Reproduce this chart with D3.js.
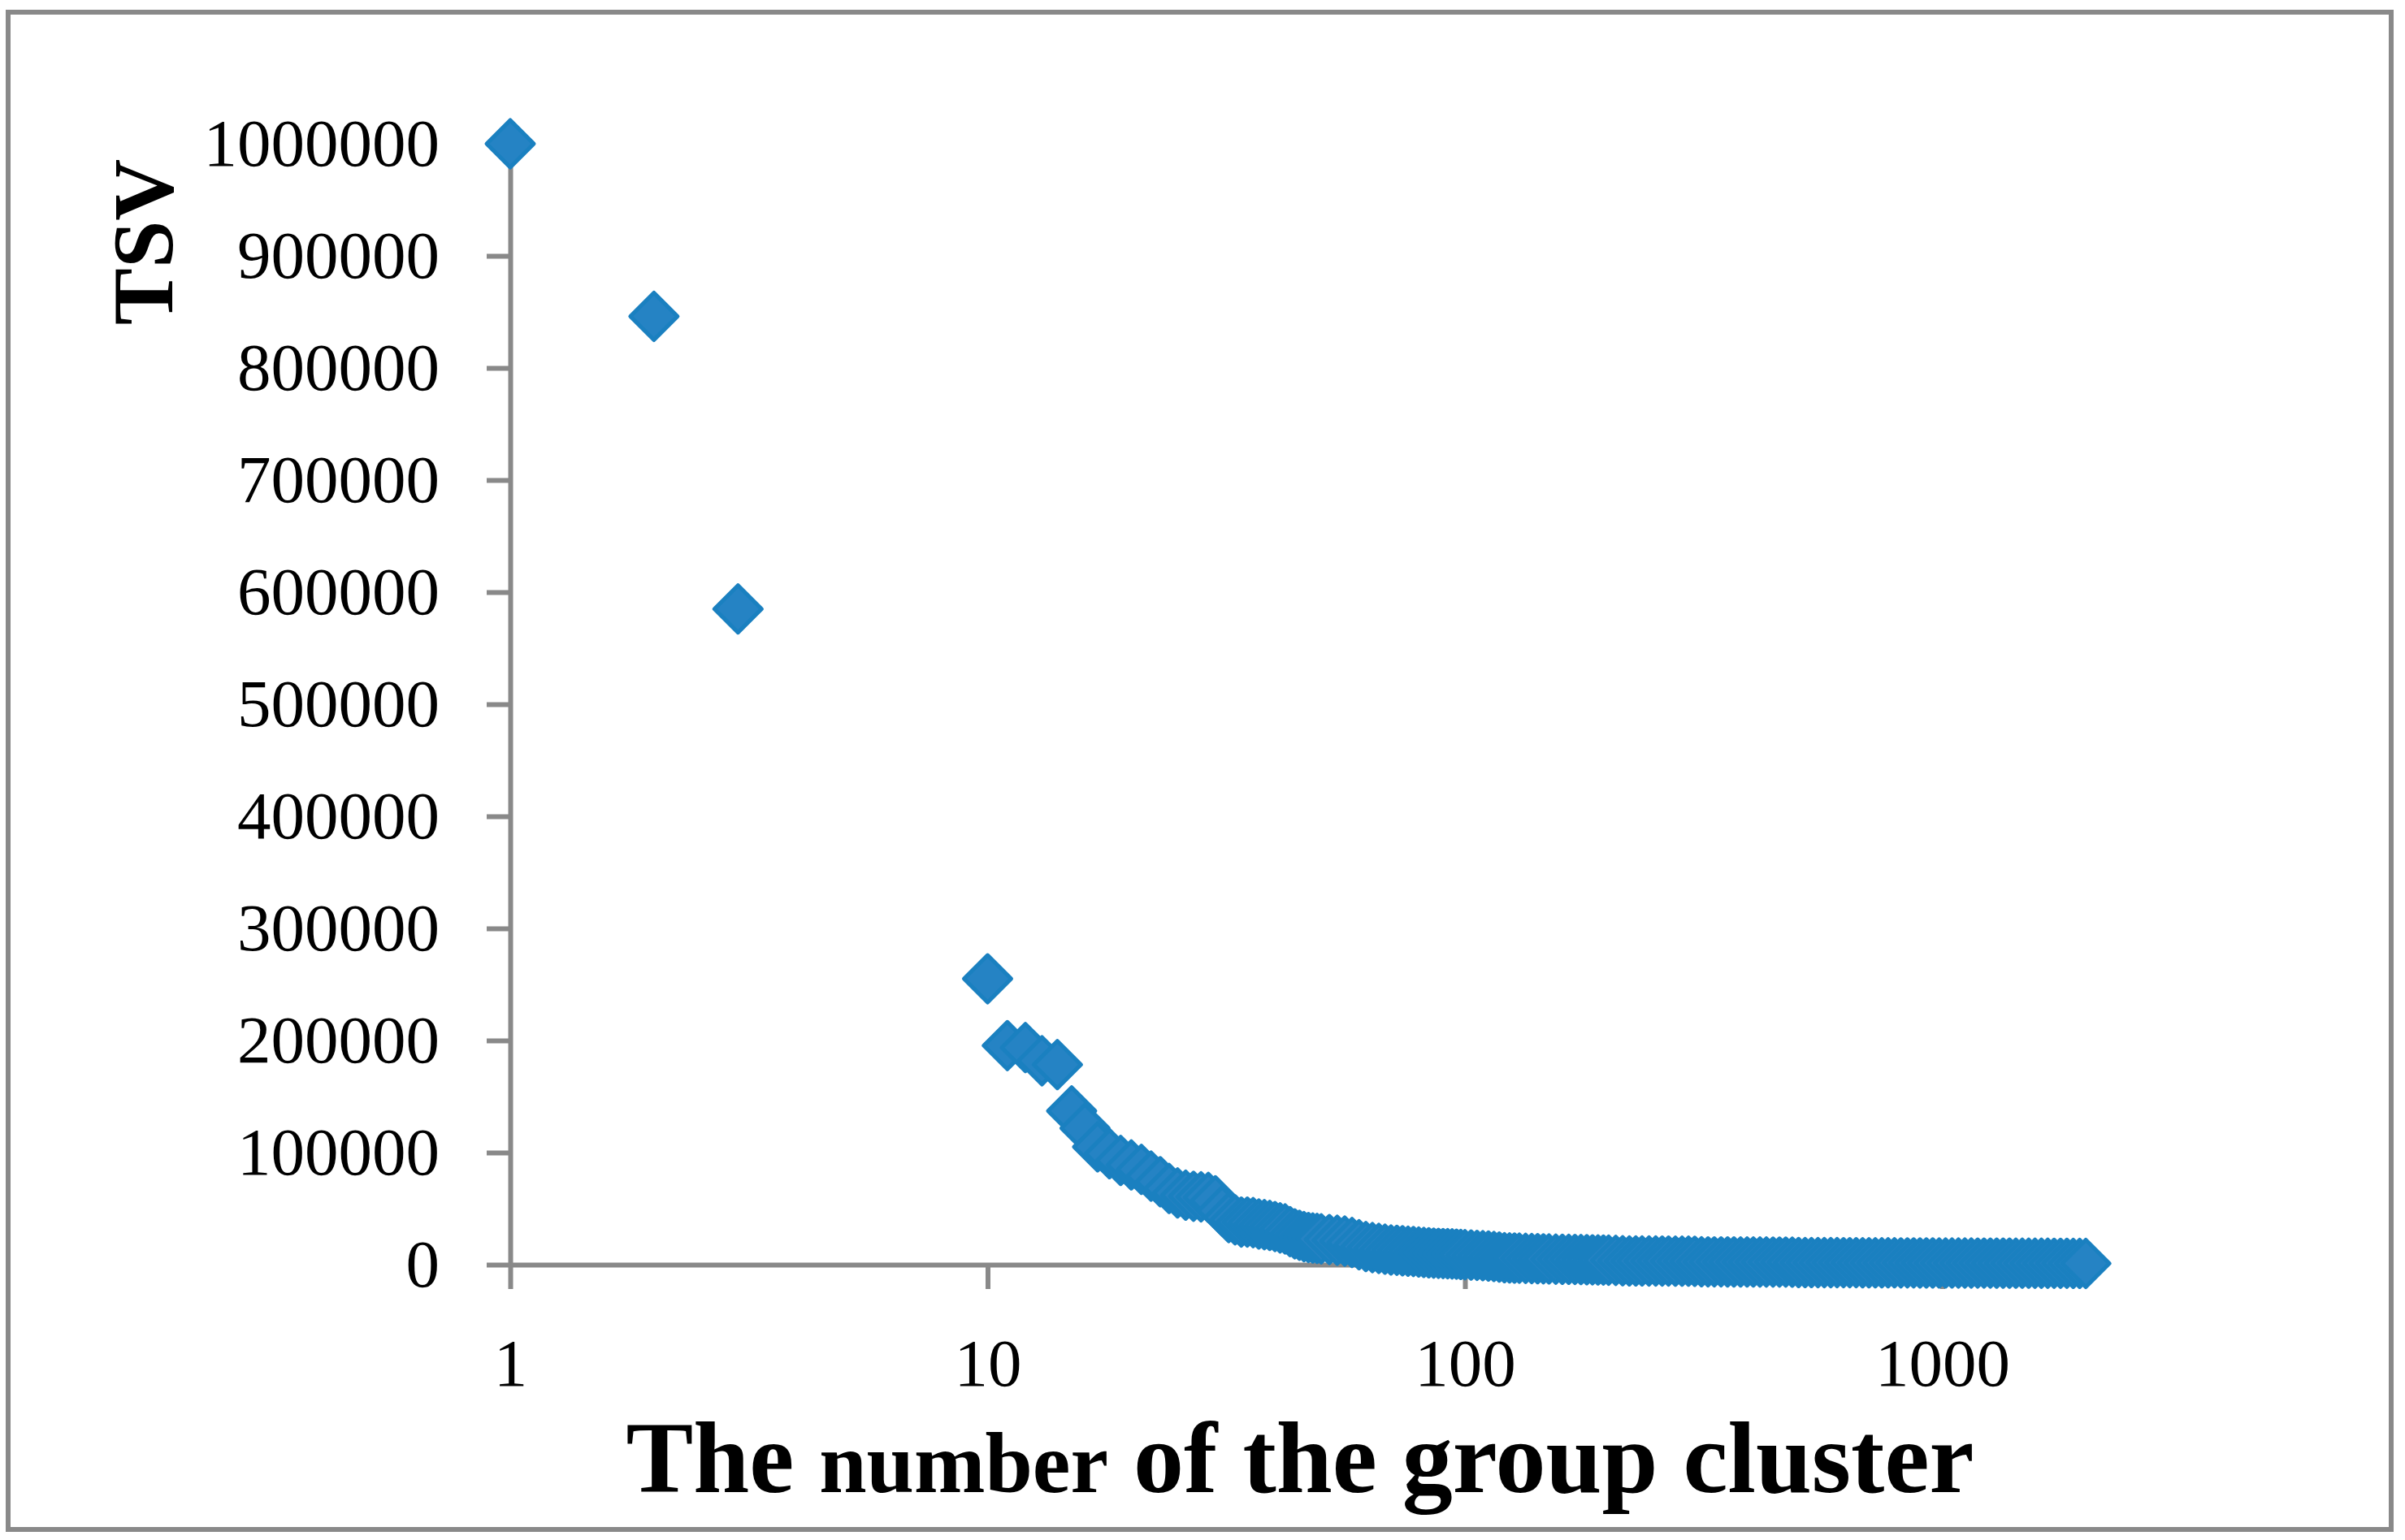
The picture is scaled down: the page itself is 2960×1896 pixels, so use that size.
<!DOCTYPE html>
<html>
<head>
<meta charset="utf-8">
<script src="https://cdn.jsdelivr.net/npm/d3@7"></script>
<style>
  body { margin: 0; background: #fff; }
  svg text { font-family: "Liberation Serif", "Times New Roman", serif; white-space: pre; }
</style>
</head>
<body>
<script>
// cluster number (x, log axis) and TSV (y)
const clusterNumber = [
  1, 2, 3,
  10, 11, 12, 13, 14, 15, 16, 17, 18, 19,
  20, 21, 22, 23, 24, 25, 26, 27, 28, 29,
  30, 31, 32, 33, 34, 35, 36, 37, 38, 39,
  40, 41, 42, 43, 44, 45, 46, 47, 48, 49,
  50, 52, 54, 56, 58, 60, 62, 64, 66, 68,
  70, 72, 74, 76, 78, 80, 82, 84, 86, 88,
  90, 92, 94, 96, 98, 100, 103, 106, 109, 112,
  115, 118, 121, 124, 127, 130, 134, 138, 142, 146,
  150, 155, 160, 165, 170, 175, 180, 185, 190, 195,
  200, 207, 214, 221, 228, 235, 243, 251, 259, 267,
  276, 285, 294, 303, 313, 323, 333, 344, 355, 366,
  378, 390, 402, 415, 428, 442, 456, 470, 485, 500,
  516, 532, 549, 566, 584, 602, 621, 640, 660, 681,
  702, 724, 747, 770, 794, 819, 845, 871, 898, 926,
  955, 985, 1016, 1048, 1081, 1115, 1150, 1186, 1223, 1261,
  1300, 1341, 1383, 1426, 1471, 1517, 1564, 1613, 1663, 1715,
  1769, 1824, 1881, 1940, 1998
];
const tsv = [
  1000000, 846000, 585000,
  255000, 195400, 193700, 181900, 178500, 137200, 121700, 105100, 99000, 93000,
  89000, 85000, 79000, 74000, 68000, 64000, 62000, 61000, 60500, 60000,
  57000, 48000, 42000, 40000, 38000, 38000, 37500, 36300, 35700, 35000,
  34000, 32800, 31900, 29500, 27500, 26200, 25000, 24200, 23800, 23400,
  23000, 22400, 21800, 21000, 19800, 17800, 16200, 15200, 14500, 13800,
  13100, 12800, 12400, 12000, 11700, 11300, 10900, 10600, 10300, 10100,
  9900, 9800, 9600, 9400, 9100, 8900, 8600, 8300, 8000, 7700,
  7300, 6800, 6200, 6000, 5900, 5800, 5600, 5450, 5350, 5200,
  5100, 4900, 4800, 4750, 4650, 4550, 4450, 4300, 4200, 4100,
  4000, 3800, 3500, 3300, 3300, 3300, 3250, 3250, 3200, 3200,
  3150, 3100, 3100, 3000, 2600, 2500, 2500, 2500, 2450, 2450,
  2400, 2400, 2400, 2350, 2350, 2300, 2300, 2300, 2250, 1900,
  1850, 1850, 1800, 1800, 1800, 1800, 1750, 1750, 1750, 1700,
  1700, 1700, 1650, 1650, 1650, 1600, 1600, 1600, 1550, 1550,
  1550, 1500, 1500, 1500, 1450, 1450, 1450, 1400, 1400, 1400,
  1350, 1350, 1350, 1300, 1300, 1300, 1250, 1250, 1250, 1200,
  1200, 1200, 1150, 1150, 1100
];
const xTickValues = [1, 10, 100, 1000];
const yTickValues = [0, 100000, 200000, 300000, 400000, 500000, 600000, 700000, 800000, 900000, 1000000];

const width = 2960, height = 1896;
const axisColor = '#898989';

const svg = d3.select('body').append('svg')
  .attr('width', width)
  .attr('height', height);

// chart frame
svg.append('rect')
  .attr('x', 10).attr('y', 15)
  .attr('width', 2933).attr('height', 1868)
  .attr('fill', '#fff')
  .attr('stroke', axisColor)
  .attr('stroke-width', 6);

const x = d3.scaleLog()
  .domain([1, 2000])
  .range([628, 628 + 587.5 * Math.log10(2000)]);

const y = d3.scaleLinear()
  .domain([0, 1000000])
  .range([1557, 177]);

const yAxis = svg.append('g')
  .attr('transform', 'translate(628,0)')
  .call(d3.axisLeft(y).tickValues(yTickValues).tickSize(29).tickSizeOuter(0).tickPadding(58).tickFormat(d3.format('d')));

const xAxis = svg.append('g')
  .attr('transform', 'translate(0,1557)')
  .call(d3.axisBottom(x).tickValues(xTickValues).tickSize(30).tickSizeOuter(0).tickPadding(60).tickFormat(d3.format('d')));

[xAxis, yAxis].forEach(g => {
  g.attr('font-size', 83).attr('font-family', '"Liberation Serif", serif');
  g.selectAll('path, line').attr('stroke', axisColor).attr('stroke-width', 6);
  g.selectAll('text').attr('fill', '#000');
});

// markers
svg.append('g')
  .selectAll('path')
  .data(d3.zip(clusterNumber, tsv))
  .join('path')
  .attr('transform', d => `translate(${x(d[0])},${y(d[1])})`)
  .attr('d', 'M0,-29L29,0L0,29L-29,0Z')
  .attr('fill', '#2583c4')
  .attr('stroke', '#1a80c0')
  .attr('stroke-width', 5)
  .attr('stroke-linejoin', 'round');

// axis titles
svg.append('text')
  .attr('transform', 'translate(212,298) rotate(-90)')
  .attr('text-anchor', 'middle')
  .attr('font-weight', 'bold')
  .attr('font-size', 105)
  .text('TSV');

const xTitle = svg.append('text')
  .attr('x', 1600).attr('y', 1837)
  .attr('text-anchor', 'middle')
  .attr('font-weight', 'bold')
  .attr('font-size', 124);
xTitle.append('tspan').text('The ');
xTitle.append('tspan').attr('font-size', 105).text('number');
xTitle.append('tspan').text(' of the group cluster');
</script>
</body>
</html>
